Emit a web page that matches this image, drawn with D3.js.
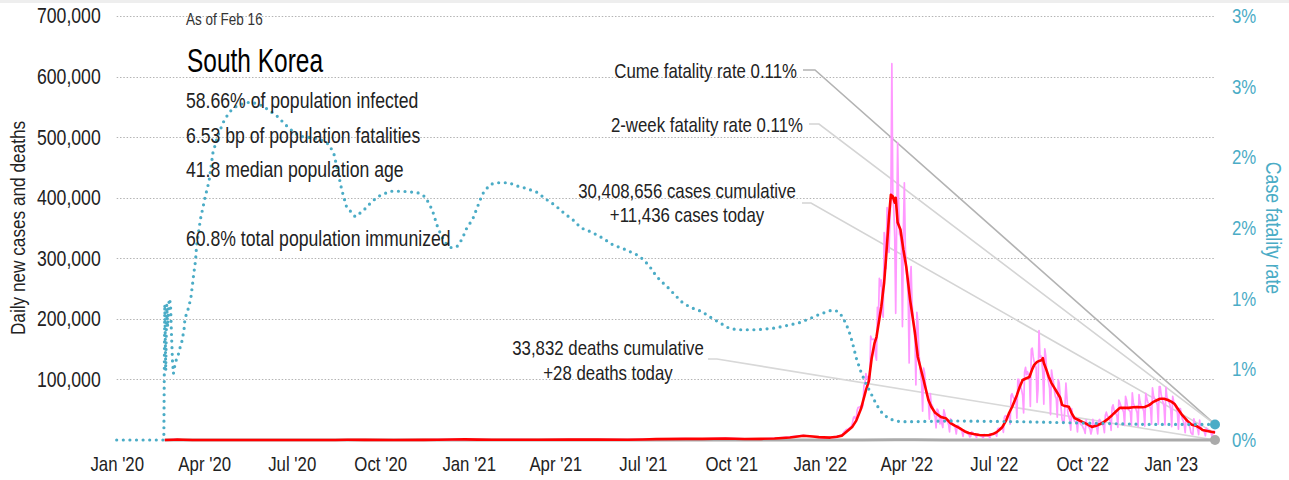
<!DOCTYPE html>
<html>
<head>
<meta charset="utf-8">
<script src="https://cdn.jsdelivr.net/npm/d3@7"></script>
<style>
  body { margin: 0; background: #fff; }
  svg { display: block; font-family: "Liberation Sans", Arial, sans-serif; }
</style>
</head>
<body>
<svg id="chart" width="1289" height="480"></svg>
<script>
// ---- axis ticks ----
const leftTicks = [100000, 200000, 300000, 400000, 500000, 600000, 700000];
const leftTickLabels = ["100,000", "200,000", "300,000", "400,000", "500,000", "600,000", "700,000"];
const rightTicks = [0, 0.5, 1, 1.5, 2, 2.5, 3];
const rightTickLabels = ["0%", "1%", "1%", "2%", "2%", "3%", "3%"];
const xTicks = ["2020-01-01", "2020-04-01", "2020-07-01", "2020-10-01", "2021-01-01", "2021-04-01",
  "2021-07-01", "2021-10-01", "2022-01-01", "2022-04-01", "2022-07-01", "2022-10-01", "2023-01-01"];
const xTickLabels = ["Jan '20", "Apr '20", "Jul '20", "Oct '20", "Jan '21", "Apr '21",
  "Jul '21", "Oct '21", "Jan '22", "Apr '22", "Jul '22", "Oct '22", "Jan '23"];

// ---- daily new cases (thousands) ----
// sparse readings before the Omicron period
const earlyCaseDates = ["2020-02-20", "2020-02-26", "2020-02-29", "2020-03-03", "2020-03-08", "2020-03-15",
  "2020-04-01", "2020-05-01", "2020-06-01", "2020-07-01", "2020-08-01", "2020-08-27", "2020-09-15",
  "2020-10-15", "2020-11-15", "2020-11-28", "2020-12-10", "2020-12-25", "2021-01-10", "2021-02-01",
  "2021-02-17", "2021-03-15", "2021-04-15", "2021-05-15", "2021-06-15", "2021-07-08", "2021-07-28",
  "2021-08-11", "2021-09-01", "2021-09-25", "2021-10-15", "2021-11-01", "2021-11-18", "2021-12-01",
  "2021-12-15", "2021-12-25", "2021-12-31"];
const earlyCasesK = [0.1, 0.3, 0.9, 0.6, 0.25, 0.08, 0.1, 0.01, 0.04, 0.05, 0.03, 0.44, 0.11,
  0.1, 0.2, 0.5, 0.7, 1.24, 0.66, 0.3, 0.62, 0.38, 0.73, 0.68, 0.54, 1.27, 1.9,
  2.2, 2.0, 3.27, 1.9, 1.7, 3.3, 5.1, 7.85, 5.4, 5.0];
// one value per day from this date on
const dailyStart = "2022-01-01";
const dailyCasesK = [
  // Jan 2022
  4.4, 3.8, 3.1, 4.4, 4.1, 4.4, 3.7, 3.5, 3.4, 3.0, 4.4, 4.2, 4.5, 4.4, 4.2, 4.2, 3.9, 5.8, 6.6, 6.8,
  6.8, 7.0, 7.6, 7.5, 8.6, 13.0, 14.5, 16.1, 17.5, 17.5, 18.3,
  // Feb
  20.3, 20.9, 22.9, 27.4, 36.4, 38.7, 35.3, 36.7, 49.6, 54.1, 53.9, 54.9, 56.4, 53.1, 57.2, 90.4, 93.1, 109.8, 102.2, 104.8,
  95.4, 99.6, 171.5, 165.9, 166.2, 166.7, 163.6, 139.6,
  // Mar
  131.8, 219.2, 198.8, 266.9, 254.3, 264.2, 210.7, 202.7, 342.4, 327.5, 283.0, 383.7, 350.2, 309.8, 362.3, 400.7, 621.3, 407.0, 381.5, 334.7,
  209.2, 354.0, 490.9, 395.6, 339.5, 335.6, 318.1, 187.2, 347.6, 424.6, 320.7,
  // Apr
  280.3, 264.2, 234.3, 127.2, 266.1, 286.3, 224.8, 205.3, 185.6, 164.5, 90.9, 210.8, 195.4, 148.4, 125.8, 107.9, 93.0, 47.7, 118.5, 111.3,
  90.9, 81.1, 75.4, 64.7, 34.4, 76.8, 57.5, 57.5, 50.6, 42.3,
  // May
  37.8, 20.1, 51.1, 49.1, 42.3, 26.7, 40.1, 26.7, 20.6, 49.9, 43.9, 35.9, 32.5, 29.6, 25.4, 13.3, 35.1, 29.6, 26.0, 23.9,
  25.1, 19.3, 9.9, 23.9, 23.9, 18.8, 17.3, 16.6, 13.6, 6.1, 16.6,
  // Jun
  13.4, 12.5, 12.0, 10.0, 9.8, 5.0, 6.1, 13.3, 12.1, 10.5, 8.4, 7.4, 3.8, 9.4, 9.0, 7.9, 7.2, 6.1, 5.4, 3.4,
  9.3, 8.0, 7.5, 7.2, 6.2, 6.0, 3.4, 9.9, 10.4, 9.6,
  // Jul
  10.7, 10.0, 10.1, 6.3, 18.1, 19.4, 18.5, 19.3, 20.3, 20.4, 12.7, 37.4, 40.3, 38.9, 39.2, 40.3, 40.3, 26.3, 73.6, 76.4,
  71.2, 68.6, 65.4, 68.6, 35.9, 100.0, 100.3, 85.3, 88.4, 82.0, 73.6,
  // Aug
  44.7, 111.8, 119.9, 107.9, 112.9, 107.9, 105.5, 55.3, 149.9, 151.8, 137.2, 128.7, 124.6, 119.6, 62.1, 84.1, 180.8, 137.2, 138.8, 128.7,
  110.0, 59.0, 150.3, 139.3, 113.3, 103.9, 95.0, 85.3, 41.7, 115.6, 103.9,
  // Sep
  95.6, 81.6, 72.1, 68.2, 37.6, 99.8, 93.9, 73.6, 51.9, 34.0, 29.0, 29.0, 57.3, 93.9, 71.4, 45.0, 38.9, 32.7, 16.2, 51.8,
  41.4, 35.1, 31.0, 30.1, 28.5, 13.4, 35.4, 33.0, 26.8, 25.0,
  // Oct
  24.0, 20.0, 17.0, 11.0, 33.2, 25.0, 23.0, 21.0, 18.0, 9.9, 17.0, 34.0, 27.0, 24.0, 22.0, 21.0, 10.0, 32.0, 34.0, 30.0,
  28.0, 25.0, 23.0, 12.0, 41.0, 46.0, 40.0, 38.0, 36.0, 31.0, 16.0,
  // Nov
  54, 58, 50, 46, 43, 40, 21, 66, 62, 57, 52, 50, 46, 24, 72, 66, 55, 50, 49, 46,
  24, 78, 62, 56, 54, 50, 45, 22, 75, 63,
  // Dec
  57, 55, 52, 47, 23, 77, 70, 63, 60, 56, 52, 26, 86, 74, 68, 67, 63, 58, 26, 88,
  88, 75, 68, 62, 55, 25, 87, 71, 67, 63, 59,
  // Jan 2023
  49, 22, 72, 64, 59, 56, 52, 43, 18, 52, 52, 43, 35, 32, 25, 12, 35, 33, 28, 25,
  20, 12, 10, 9, 35, 28, 25, 21, 18, 9, 33,
  // Feb 2023
  22, 19, 17, 16, 13, 7, 20, 17, 16, 14, 13, 11, 5, 14, 15, 11.436
];

// ---- 7-day average of new cases (thousands) ----
const avgDates = ["2020-02-20", "2020-02-29", "2020-03-04", "2020-03-10", "2020-03-20", "2020-04-15", "2020-05-15",
  "2020-06-15", "2020-07-15", "2020-08-15", "2020-08-28", "2020-09-15", "2020-10-15", "2020-11-15", "2020-11-30",
  "2020-12-15", "2020-12-28", "2021-01-10", "2021-01-25", "2021-02-15", "2021-03-15", "2021-04-15", "2021-05-15",
  "2021-06-15", "2021-07-01", "2021-07-15", "2021-08-15", "2021-09-01", "2021-09-25", "2021-10-15", "2021-11-01",
  "2021-11-15", "2021-12-01", "2021-12-15", "2021-12-25", "2021-12-31",
  "2022-01-05", "2022-01-12", "2022-01-19", "2022-01-24", "2022-01-27", "2022-01-31", "2022-02-04", "2022-02-08",
  "2022-02-13", "2022-02-18", "2022-02-21", "2022-02-24", "2022-02-27", "2022-03-01", "2022-03-06", "2022-03-09",
  "2022-03-11", "2022-03-14", "2022-03-16", "2022-03-18", "2022-03-20", "2022-03-21", "2022-03-23", "2022-03-26",
  "2022-03-29", "2022-04-01", "2022-04-05", "2022-04-10", "2022-04-13", "2022-04-19", "2022-04-24", "2022-04-27",
  "2022-05-01", "2022-05-07", "2022-05-12", "2022-05-17", "2022-05-21", "2022-05-26", "2022-06-01", "2022-06-05",
  "2022-06-10", "2022-06-16", "2022-06-22", "2022-06-26", "2022-06-30", "2022-07-04", "2022-07-07", "2022-07-10",
  "2022-07-14", "2022-07-17", "2022-07-20", "2022-07-25", "2022-07-28", "2022-07-31", "2022-08-04", "2022-08-07",
  "2022-08-10", "2022-08-12", "2022-08-15", "2022-08-18", "2022-08-20", "2022-08-21", "2022-08-22", "2022-08-24",
  "2022-08-27", "2022-08-30", "2022-09-02", "2022-09-05", "2022-09-08", "2022-09-10", "2022-09-13", "2022-09-17",
  "2022-09-20", "2022-09-23", "2022-09-27", "2022-10-01", "2022-10-05", "2022-10-11", "2022-10-16", "2022-10-22",
  "2022-10-27", "2022-11-01", "2022-11-05", "2022-11-09", "2022-11-14", "2022-11-18", "2022-11-23", "2022-11-27",
  "2022-12-01", "2022-12-05", "2022-12-10", "2022-12-14", "2022-12-18", "2022-12-21", "2022-12-25", "2022-12-29",
  "2023-01-02", "2023-01-05", "2023-01-09", "2023-01-13", "2023-01-18", "2023-01-23", "2023-01-28", "2023-02-01",
  "2023-02-03", "2023-02-08", "2023-02-12", "2023-02-16"];
const avgCasesK = [0.05, 0.5, 0.6, 0.4, 0.12, 0.04, 0.02,
  0.04, 0.04, 0.1, 0.33, 0.13, 0.08, 0.17, 0.45,
  0.85, 1.03, 0.7, 0.42, 0.42, 0.43, 0.66, 0.6,
  0.5, 0.75, 1.4, 1.8, 1.8, 2.5, 1.6, 1.9,
  2.6, 4.2, 6.9, 5.8, 4.8,
  4.4, 4.0, 5.3, 7.2, 11.0, 16.5, 22, 32,
  52, 82, 97, 135, 160, 170, 220, 260,
  302, 368, 405, 402, 392, 400, 359, 347,
  314, 286, 231, 177, 137, 99, 66, 55,
  45, 38, 36, 28, 24, 20, 14, 11.6,
  10, 8.3, 7.8, 8.3, 9.8, 13, 17, 21.5,
  33, 45, 54.5, 74, 88, 99, 102, 104,
  117, 124, 129, 131, 132, 135, 127, 119,
  105, 94, 86, 78, 70, 58, 56, 55,
  44, 36, 33, 30, 27, 21.5, 24, 28,
  34, 41, 47, 53, 53, 53, 54, 54.5,
  54, 54.5, 58, 63, 66, 68, 68, 66,
  63, 59.5, 50, 41, 32, 25, 23, 19,
  16.5, 15, 13.5, 12.5];

// ---- daily deaths ----
const deathDates = ["2020-02-20", "2020-03-10", "2020-04-15", "2020-07-01", "2020-09-10", "2020-12-25", "2021-01-10",
  "2021-03-01", "2021-07-01", "2021-09-15", "2021-11-20", "2021-12-20", "2022-01-15", "2022-02-15", "2022-03-20",
  "2022-04-10", "2022-05-10", "2022-06-20", "2022-08-25", "2022-10-10", "2022-12-28", "2023-02-16"];
const deathsDaily = [1, 6, 3, 1, 4, 20, 18, 6, 2, 8, 30, 70, 30, 40, 350, 270, 60, 10, 70, 20, 55, 28];

// ---- cumulative case fatality rate (%) ----
const cfrDates = ["2020-01-01", "2020-02-19", "2020-02-20", "2020-02-21", "2020-02-22", "2020-02-23", "2020-02-24",
  "2020-02-25", "2020-02-26", "2020-02-27", "2020-02-28", "2020-02-29", "2020-03-02", "2020-03-05", "2020-03-06",
  "2020-03-08", "2020-03-11", "2020-03-12", "2020-03-15", "2020-03-18", "2020-03-20", "2020-03-21", "2020-03-23",
  "2020-03-24", "2020-03-28", "2020-04-02", "2020-04-06", "2020-04-10", "2020-04-15", "2020-04-21", "2020-04-27",
  "2020-05-06", "2020-05-18", "2020-05-27", "2020-06-06", "2020-06-16", "2020-06-29", "2020-07-09", "2020-07-20",
  "2020-07-30", "2020-08-09", "2020-08-14", "2020-08-18", "2020-08-22", "2020-08-27", "2020-09-05", "2020-09-13",
  "2020-09-20", "2020-09-28", "2020-10-11", "2020-10-24", "2020-11-09", "2020-11-17", "2020-11-24", "2020-11-30",
  "2020-12-07", "2020-12-14", "2020-12-20", "2020-12-25", "2020-12-30", "2021-01-05", "2021-01-09", "2021-01-13",
  "2021-01-17", "2021-01-24", "2021-01-31", "2021-02-12", "2021-02-19", "2021-03-02", "2021-03-14", "2021-03-21",
  "2021-04-01", "2021-04-11", "2021-04-19", "2021-04-28", "2021-05-09", "2021-05-20", "2021-05-31", "2021-06-12",
  "2021-06-25", "2021-07-01", "2021-07-08", "2021-07-13", "2021-07-19", "2021-07-27", "2021-08-03", "2021-08-10",
  "2021-08-19", "2021-08-31", "2021-09-09", "2021-09-19", "2021-09-29", "2021-10-08", "2021-10-28", "2021-11-13",
  "2021-11-28", "2021-12-11", "2021-12-22", "2022-01-01", "2022-01-14", "2022-01-20", "2022-01-25", "2022-01-31",
  "2022-02-04", "2022-02-08", "2022-02-13", "2022-02-18", "2022-02-24", "2022-03-01", "2022-03-07", "2022-03-14",
  "2022-03-25", "2022-04-12", "2022-05-16", "2022-07-25", "2022-10-02", "2022-12-10", "2023-02-16"];
const cfrPct = [0, 0, 0.96, 0.49, 0.96, 0.80, 0.96,
  1.0, 0.95, 0.74, 0.56, 0.47, 0.55, 0.60, 0.64,
  0.67, 0.78, 0.86, 0.92, 1.0, 1.11, 1.17, 1.27,
  1.37, 1.56, 1.72, 1.83, 2.03, 2.15, 2.25, 2.32,
  2.37, 2.39, 2.38, 2.34, 2.29, 2.20, 2.15, 2.14,
  2.13, 2.09, 2.02, 1.90, 1.77, 1.65, 1.58, 1.62,
  1.67, 1.72, 1.76, 1.76, 1.75, 1.72, 1.63, 1.50,
  1.40, 1.36, 1.37, 1.42, 1.50, 1.56, 1.63, 1.70,
  1.76, 1.81, 1.82, 1.82, 1.80, 1.78, 1.75, 1.71,
  1.66, 1.60, 1.56, 1.50, 1.47, 1.43, 1.38, 1.35,
  1.31, 1.28, 1.23, 1.18, 1.13, 1.08, 1.03, 0.98,
  0.94, 0.91, 0.87, 0.83, 0.79, 0.78, 0.78, 0.79,
  0.81, 0.83, 0.86, 0.89, 0.92, 0.91, 0.87, 0.78,
  0.69, 0.58, 0.48, 0.40, 0.32, 0.25, 0.19, 0.15,
  0.13, 0.13, 0.135, 0.13, 0.12, 0.11, 0.11];
const twoWeekCfrPct = 0.11;

// ---- text ----
const asOf = "As of Feb 16";
const country = "South Korea";
const statLines = [
  { text: "58.66% of population infected", y: 108 },
  { text: "6.53 bp of population fatalities", y: 143 },
  { text: "41.8 median population age", y: 177 },
  { text: "60.8% total population immunized", y: 246 }
];

// ---- scales ----
const parse = d3.utcParse("%Y-%m-%d");
const x = d3.scaleUtc().domain([parse("2020-01-01"), parse("2023-02-16")]).range([116.7, 1215]);
const yL = d3.scaleLinear().domain([0, 700000]).range([440, 16]);
const yR = d3.scaleLinear().domain([0, 3]).range([440, 16]);

const pinkSeries = earlyCaseDates.map((d, i) => ({ date: parse(d), v: earlyCasesK[i] * 1000 }))
  .concat(dailyCasesK.map((v, i) => ({ date: d3.utcDay.offset(parse(dailyStart), i), v: v * 1000 })));
const avgSeries = avgDates.map((d, i) => ({ date: parse(d), v: avgCasesK[i] * 1000 }));
const deathSeries = deathDates.map((d, i) => ({ date: parse(d), v: deathsDaily[i] }));
const cfrSeries = cfrDates.map((d, i) => ({ date: parse(d), v: cfrPct[i] }));

const BLUE = "#4bacc6";
const NARROW = 0.82;   // horizontal compression that gives the condensed lettering

// squeeze text horizontally around its own anchor x
function squeeze(sel, k = NARROW) {
  sel.each(function () {
    const t = d3.select(this);
    const x0 = +(t.attr("x") || 0);
    const prev = t.attr("transform") || "";
    t.attr("transform", `${prev} translate(${x0},0) scale(${k},1) translate(${-x0},0)`.trim());
  });
}

const svg = d3.select("#chart");
svg.append("rect").attr("width", 1289).attr("height", 480).attr("fill", "#fff");
svg.append("rect").attr("width", 1289).attr("height", 3).attr("fill", "#eeeeee");

// grid
svg.append("g").selectAll("line").data(leftTicks).join("line")
  .attr("x1", x.range()[0]).attr("x2", x.range()[1])
  .attr("y1", d => Math.round(yL(d)) + 0.5).attr("y2", d => Math.round(yL(d)) + 0.5)
  .attr("stroke", "#b4b4b4").attr("stroke-width", 1).attr("stroke-dasharray", "1.5,1.8");

// axes
const gL = svg.append("g").attr("transform", `translate(${x.range()[0]},0)`)
  .call(d3.axisLeft(yL).tickValues(leftTicks).tickFormat((d, i) => leftTickLabels[i]).tickSize(0).tickPadding(16));
const gB = svg.append("g").attr("transform", "translate(0,440)")
  .call(d3.axisBottom(x).tickValues(xTicks.map(parse)).tickFormat((d, i) => xTickLabels[i]).tickSize(0).tickPadding(16.5));
const gR = svg.append("g").attr("transform", `translate(${x.range()[1]},0)`)
  .call(d3.axisRight(yR).tickValues(rightTicks).tickFormat((d, i) => rightTickLabels[i]).tickSize(0).tickPadding(17));
[gL, gB, gR].forEach(g => {
  g.attr("font-family", null).attr("font-size", null);
  g.select(".domain").remove();
  g.selectAll("text").attr("fill", "#222");
});
gL.selectAll("text").attr("font-size", 21.5);
gB.selectAll("text").attr("font-size", 20.5);
gR.selectAll("text").attr("font-size", 20.5).attr("fill", BLUE);
[gL, gB, gR].forEach(g => squeeze(g.selectAll("text")));

squeeze(svg.append("text").attr("transform", "translate(25,228) rotate(-90)")
  .attr("text-anchor", "middle").attr("font-size", 21).attr("fill", "#222")
  .text("Daily new cases and deaths"));
squeeze(svg.append("text").attr("transform", "translate(1266,228) rotate(90)")
  .attr("text-anchor", "middle").attr("font-size", 21.5).attr("fill", BLUE)
  .text("Case fatality rate"));

// end-point positions
const xEnd = x(parse("2023-02-16"));
const lastCfr = cfrSeries[cfrSeries.length - 1].v;
const lastCases = pinkSeries[pinkSeries.length - 1].v;
const lastDeaths = deathSeries[deathSeries.length - 1].v;

// leader lines
const leaders = [
  { pts: [[803, 70], [815, 70], [xEnd, yR(lastCfr)]], color: "#b3b3b3" },
  { pts: [[809, 124], [819, 124], [xEnd, yR(twoWeekCfrPct)]], color: "#d4d4d4" },
  { pts: [[802, 203], [811, 203], [xEnd, yL(lastCases)]], color: "#d4d4d4" },
  { pts: [[708, 359], [717, 359], [xEnd, yL(lastDeaths)]], color: "#d8d8d8" }
];
svg.append("g").selectAll("path").data(leaders).join("path")
  .attr("d", d => d3.line()(d.pts)).attr("fill", "none")
  .attr("stroke", d => d.color).attr("stroke-width", 1.6);

// series
svg.append("path").datum(deathSeries)
  .attr("d", d3.line().x(d => x(d.date)).y(d => yL(d.v)))
  .attr("fill", "none").attr("stroke", "#aaaaaa").attr("stroke-width", 3);
svg.append("path").datum(pinkSeries)
  .attr("d", d3.line().x(d => x(d.date)).y(d => yL(d.v)))
  .attr("fill", "none").attr("stroke", "#ff99ff").attr("stroke-width", 1.7).attr("stroke-linejoin", "round");
svg.append("path").datum(avgSeries)
  .attr("d", d3.line().x(d => x(d.date)).y(d => yL(d.v)))
  .attr("fill", "none").attr("stroke", "#ff0000").attr("stroke-width", 2.6).attr("stroke-linejoin", "round");
svg.append("path").datum(cfrSeries)
  .attr("d", d3.line().x(d => x(d.date)).y(d => yR(d.v)))
  .attr("fill", "none").attr("stroke", BLUE).attr("stroke-width", 3.2)
  .attr("stroke-linecap", "round").attr("stroke-dasharray", "0,6.6");

svg.append("circle").attr("cx", xEnd).attr("cy", yR(lastCfr)).attr("r", 5).attr("fill", BLUE);
svg.append("circle").attr("cx", xEnd).attr("cy", yL(lastDeaths)).attr("r", 5).attr("fill", "#aaaaaa");

// title block
squeeze(svg.append("text").attr("x", 186).attr("y", 25).attr("font-size", 16.5).attr("fill", "#333").text(asOf));
squeeze(svg.append("text").attr("x", 187).attr("y", 72).attr("font-size", 34).attr("fill", "#000").text(country), 0.72);
squeeze(svg.append("g").selectAll("text").data(statLines).join("text")
  .attr("x", 186).attr("y", d => d.y).attr("font-size", 21.5).attr("fill", "#222").text(d => d.text));

// annotations
const fmt = d3.format(",");
const ann = svg.append("g").attr("font-size", 20.5).attr("fill", "#222");
ann.append("text").attr("x", 797).attr("y", 78).attr("text-anchor", "end")
  .text(`Cume fatality rate ${lastCfr.toFixed(2)}%`);
ann.append("text").attr("x", 803).attr("y", 132).attr("text-anchor", "end")
  .text(`2-week fatality rate ${twoWeekCfrPct.toFixed(2)}%`);
ann.append("text").attr("x", 687).attr("y", 198).attr("text-anchor", "middle")
  .text(`${fmt(30408656)} cases cumulative`);
ann.append("text").attr("x", 687).attr("y", 222).attr("text-anchor", "middle")
  .text(`+${fmt(Math.round(lastCases))} cases today`);
ann.append("text").attr("x", 608).attr("y", 355).attr("text-anchor", "middle")
  .text(`${fmt(33832)} deaths cumulative`);
ann.append("text").attr("x", 608).attr("y", 380).attr("text-anchor", "middle")
  .text(`+${lastDeaths} deaths today`);
squeeze(ann.selectAll("text"));
</script>
</body>
</html>
